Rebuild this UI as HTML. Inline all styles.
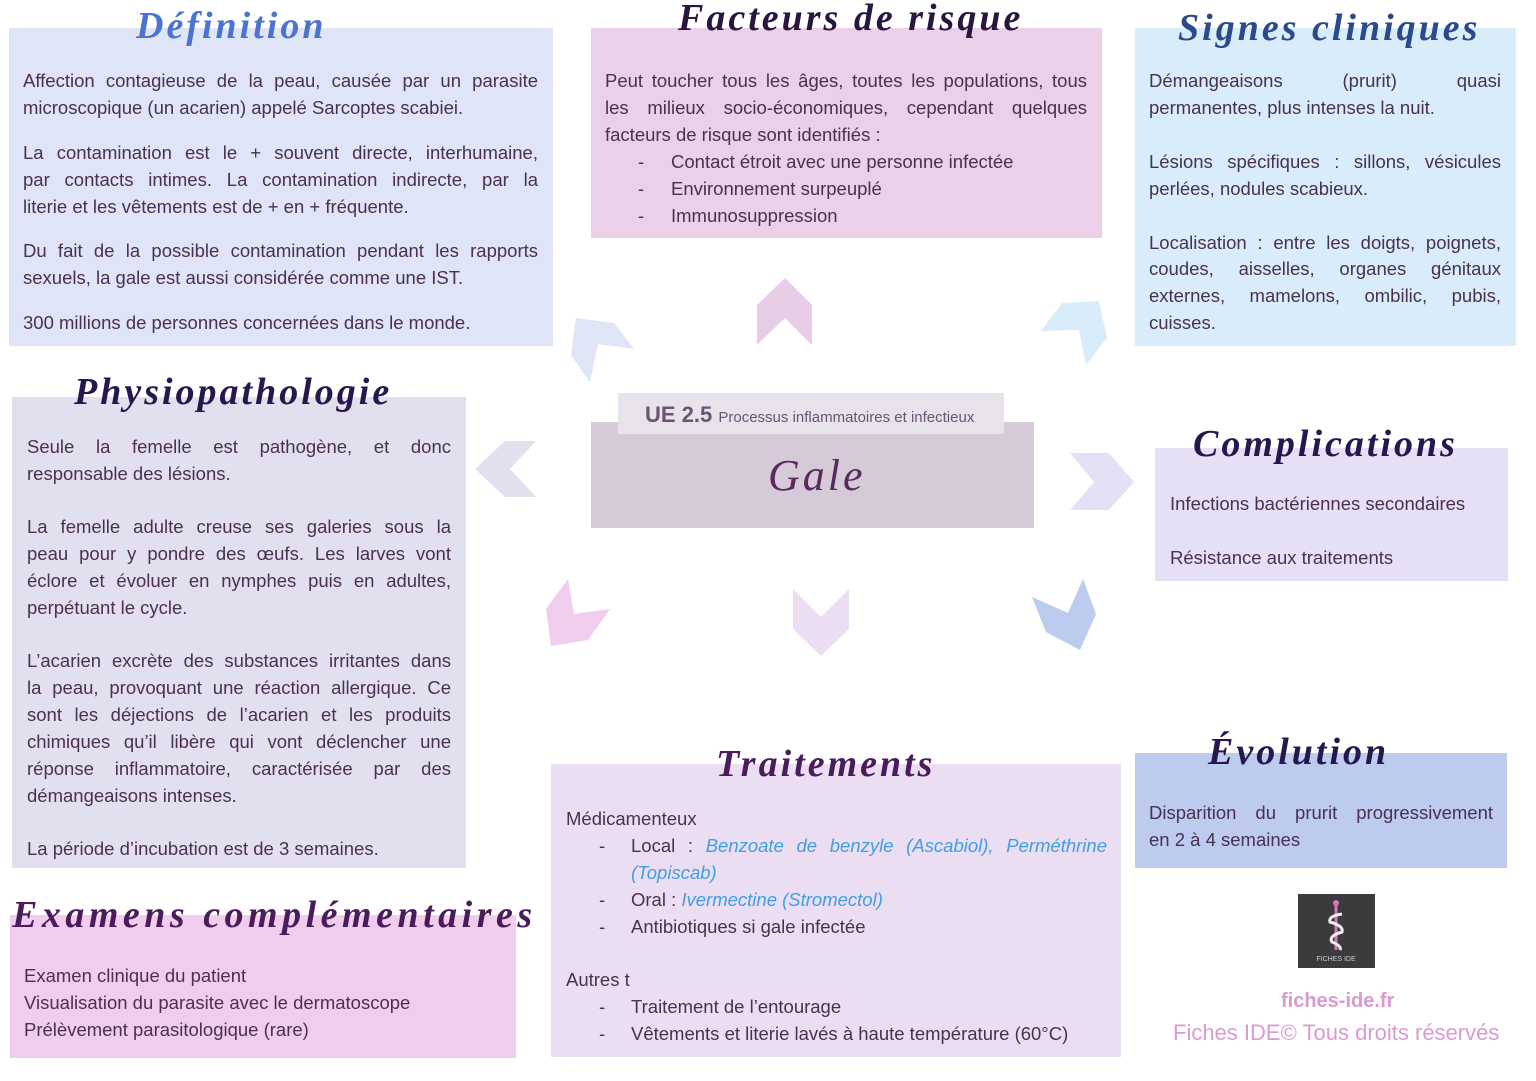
<!DOCTYPE html>
<html><head><meta charset="utf-8">
<style>
*{margin:0;padding:0;box-sizing:border-box}
body{width:1536px;height:1081px;background:#fff;position:relative;overflow:hidden;font-family:"Liberation Sans",sans-serif;color:#4a3052}
.b{position:absolute}
.t{position:absolute;font-family:"Liberation Serif",serif;font-style:italic;font-weight:bold;font-size:38px;white-space:nowrap;letter-spacing:3px}
.l{position:absolute;font-size:18.5px;line-height:22px;white-space:nowrap}
.j{text-align:justify;text-align-last:justify;white-space:normal}
.bl{color:#3f9ee8;font-style:italic}
</style></head><body>
<svg class="b" style="left:0;top:0" width="1536" height="1081">
<polygon points="757,305 785,278 812,305 812,345 785,318 757,345" fill="#e8cde6"/>
<polygon points="576,318 614,323 634,349 598,344 590,382 571,355" fill="#dfe4f6"/>
<polygon points="1041,331 1062,303 1099,301 1107,338 1086,365 1079,330" fill="#d9ecf9"/>
<polygon points="475,469 505,441 536,441 510,469 536,497 505,497" fill="#e2e0ef"/>
<polygon points="1070,453 1109,453 1134,482 1109,510 1070,510 1094,482" fill="#e5e0f5"/>
<polygon points="546,609 568,579 574,614 610,609 588,640 551,646" fill="#f0cdec"/>
<polygon points="793,589 821,617 849,589 849,629 821,656 793,629" fill="#ebdef3"/>
<polygon points="1032,597 1068,613 1083,579 1096,614 1080,650 1046,632" fill="#bccbee"/>
</svg>

<div class="b" style="left:9px;top:28px;width:544px;height:318px;background:#dfe4f6"></div>
<div class="b" style="left:591px;top:28px;width:511px;height:210px;background:#ead0e8"></div>
<div class="b" style="left:1135px;top:28px;width:381px;height:318px;background:#d9ecf9"></div>
<div class="b" style="left:12px;top:397px;width:454px;height:471px;background:#e2e0ef"></div>
<div class="b" style="left:1155px;top:448px;width:353px;height:133px;background:#e5e0f5"></div>
<div class="b" style="left:551px;top:764px;width:570px;height:293px;background:#ebdef3"></div>
<div class="b" style="left:1135px;top:753px;width:372px;height:115px;background:#bccbee"></div>
<div class="b" style="left:10px;top:915px;width:506px;height:143px;background:#f0cdec"></div>
<div class="b" style="left:591px;top:422px;width:443px;height:106px;background:#d6cad8"></div>
<div class="b" style="left:618px;top:393px;width:386px;height:41px;background:#e8e3eb"></div>

<div class="t" style="left:136px;top:4px;color:#4a74d2">Définition</div>
<div class="t" style="left:678px;top:-4px;color:#2a1540">Facteurs de risque</div>
<div class="t" style="left:1178px;top:6px;color:#2b4a8e">Signes cliniques</div>
<div class="t" style="left:74px;top:370px;color:#26184e">Physiopathologie</div>
<div class="t" style="left:1193px;top:422px;color:#26184e">Complications</div>
<div class="t" style="left:716px;top:742px;color:#4a1c5c">Traitements</div>
<div class="t" style="left:1208px;top:730px;color:#26184e">Évolution</div>
<div class="t" style="left:12px;top:893px;color:#4a1c5c;letter-spacing:4.5px">Examens complémentaires</div>

<div class="l" style="left:645px;top:404px;font-size:22px;font-weight:bold;color:#6a5472">UE 2.5 <span style="font-size:15px;font-weight:normal">Processus inflammatoires et infectieux</span></div>
<div class="t" style="left:768px;top:450px;font-size:44px;color:#5a2a5e;font-weight:normal">Gale</div>

<div class="l j" style="left:23px;top:70px;width:515px">Affection contagieuse de la peau, causée par un parasite</div>
<div class="l" style="left:23px;top:97px">microscopique (un acarien) appelé Sarcoptes scabiei.</div>
<div class="l j" style="left:23px;top:142px;width:515px">La contamination est le + souvent directe, interhumaine,</div>
<div class="l j" style="left:23px;top:169px;width:515px">par contacts intimes. La contamination indirecte, par la</div>
<div class="l" style="left:23px;top:196px">literie et les vêtements est de + en + fréquente.</div>
<div class="l j" style="left:23px;top:240px;width:515px">Du fait de la possible contamination pendant les rapports</div>
<div class="l" style="left:23px;top:267px">sexuels, la gale est aussi considérée comme une IST.</div>
<div class="l" style="left:23px;top:312px">300 millions de personnes concernées dans le monde.</div>

<div class="l j" style="left:605px;top:70px;width:482px">Peut toucher tous les âges, toutes les populations, tous</div>
<div class="l j" style="left:605px;top:97px;width:482px">les milieux socio-économiques, cependant quelques</div>
<div class="l" style="left:605px;top:124px">facteurs de risque sont identifiés :</div>
<div class="l" style="left:638px;top:151px">-</div><div class="l" style="left:671px;top:151px">Contact étroit avec une personne infectée</div>
<div class="l" style="left:638px;top:178px">-</div><div class="l" style="left:671px;top:178px">Environnement surpeuplé</div>
<div class="l" style="left:638px;top:205px">-</div><div class="l" style="left:671px;top:205px">Immunosuppression</div>

<div class="l j" style="left:1149px;top:70px;width:352px">Démangeaisons (prurit) quasi</div>
<div class="l" style="left:1149px;top:97px">permanentes, plus intenses la nuit.</div>
<div class="l j" style="left:1149px;top:151px;width:352px">Lésions spécifiques : sillons, vésicules</div>
<div class="l" style="left:1149px;top:178px">perlées, nodules scabieux.</div>
<div class="l j" style="left:1149px;top:232px;width:352px">Localisation : entre les doigts, poignets,</div>
<div class="l j" style="left:1149px;top:258px;width:352px">coudes, aisselles, organes génitaux</div>
<div class="l j" style="left:1149px;top:285px;width:352px">externes, mamelons, ombilic, pubis,</div>
<div class="l" style="left:1149px;top:312px">cuisses.</div>

<div class="l j" style="left:27px;top:436px;width:424px">Seule la femelle est pathogène, et donc</div>
<div class="l" style="left:27px;top:463px">responsable des lésions.</div>
<div class="l j" style="left:27px;top:516px;width:424px">La femelle adulte creuse ses galeries sous la</div>
<div class="l j" style="left:27px;top:543px;width:424px">peau pour y pondre des œufs. Les larves vont</div>
<div class="l j" style="left:27px;top:570px;width:424px">éclore et évoluer en nymphes puis en adultes,</div>
<div class="l" style="left:27px;top:597px">perpétuant le cycle.</div>
<div class="l j" style="left:27px;top:650px;width:424px">L’acarien excrète des substances irritantes dans</div>
<div class="l j" style="left:27px;top:677px;width:424px">la peau, provoquant une réaction allergique. Ce</div>
<div class="l j" style="left:27px;top:704px;width:424px">sont les déjections de l’acarien et les produits</div>
<div class="l j" style="left:27px;top:731px;width:424px">chimiques qu’il libère qui vont déclencher une</div>
<div class="l j" style="left:27px;top:758px;width:424px">réponse inflammatoire, caractérisée par des</div>
<div class="l" style="left:27px;top:785px">démangeaisons intenses.</div>
<div class="l" style="left:27px;top:838px">La période d’incubation est de 3 semaines.</div>

<div class="l" style="left:1170px;top:493px">Infections bactériennes secondaires</div>
<div class="l" style="left:1170px;top:547px">Résistance aux traitements</div>

<div class="l j" style="left:1149px;top:802px;width:344px">Disparition du prurit progressivement</div>
<div class="l" style="left:1149px;top:829px">en 2 à 4 semaines</div>

<div class="l" style="left:566px;top:808px">Médicamenteux</div>
<div class="l" style="left:599px;top:835px">-</div><div class="l j" style="left:631px;top:835px;width:476px">Local : <span class="bl">Benzoate de benzyle (Ascabiol), Perméthrine</span></div>
<div class="l bl" style="left:631px;top:862px">(Topiscab)</div>
<div class="l" style="left:599px;top:889px">-</div><div class="l" style="left:631px;top:889px">Oral : <span class="bl">Ivermectine (Stromectol)</span></div>
<div class="l" style="left:599px;top:916px">-</div><div class="l" style="left:631px;top:916px">Antibiotiques si gale infectée</div>
<div class="l" style="left:566px;top:969px">Autres t</div>
<div class="l" style="left:599px;top:996px">-</div><div class="l" style="left:631px;top:996px">Traitement de l’entourage</div>
<div class="l" style="left:599px;top:1023px">-</div><div class="l" style="left:631px;top:1023px">Vêtements et literie lavés à haute température (60°C)</div>

<div class="l" style="left:24px;top:965px">Examen clinique du patient</div>
<div class="l" style="left:24px;top:992px">Visualisation du parasite avec le dermatoscope</div>
<div class="l" style="left:24px;top:1019px">Prélèvement parasitologique (rare)</div>

<div class="b" style="left:1298px;top:894px;width:77px;height:74px;background:#3c3a3c">
<svg width="77" height="74"><line x1="38" y1="8" x2="38" y2="56" stroke="#d07ab8" stroke-width="3"/><circle cx="38" cy="9" r="3" fill="#d07ab8"/>
<path d="M44 20 Q30 22 32 28 Q46 32 44 38 Q30 42 34 48 Q44 52 42 56" stroke="#eee" stroke-width="3" fill="none"/>
<text x="38" y="67" font-size="7" fill="#ccc" text-anchor="middle" font-family="Liberation Sans">FICHES IDE</text></svg></div>
<div class="l" style="left:1281px;top:990px;font-size:20px;font-weight:bold;color:#d99ad0">fiches-ide.fr</div>
<div class="l" style="left:1173px;top:1022px;font-size:22px;color:#d99ad0">Fiches IDE© Tous droits réservés</div>
</body></html>
